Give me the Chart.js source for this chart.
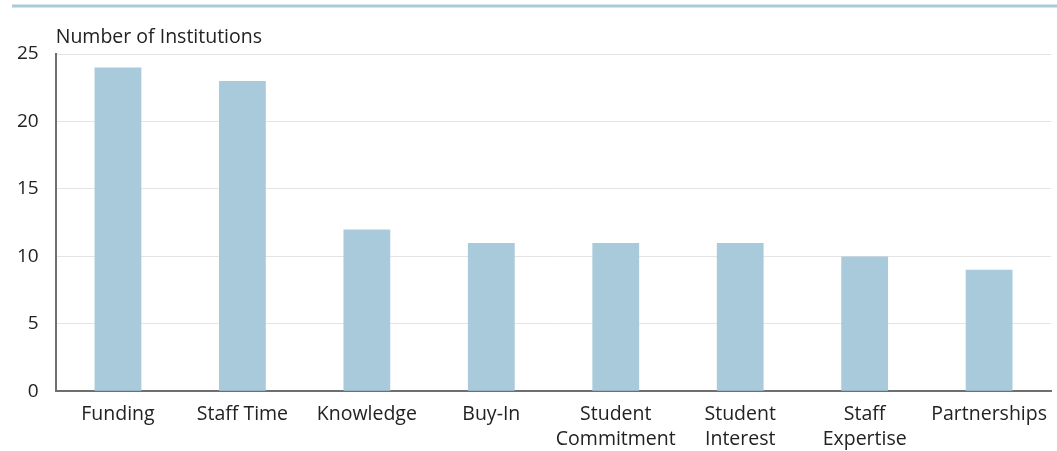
<!DOCTYPE html>
<html>
<head>
<meta charset="utf-8">
<script src="https://cdn.jsdelivr.net/npm/chart.js@4.4.1/dist/chart.umd.min.js"></script>
<style>
  html, body { margin: 0; padding: 0; background: #fff; }
  #wrap { position: relative; width: 1057px; height: 451px; }
</style>
</head>
<body>
<div id="wrap"><canvas id="barrierChart"></canvas></div>
<script>
const categories = ['Funding', 'Staff Time', 'Knowledge', 'Buy-In', ['Student', 'Commitment'], ['Student', 'Interest'], ['Staff', 'Expertise'], 'Partnerships'];
const institutions = [24, 23, 12, 11, 11, 11, 10, 9];
const yTicks = [0, 5, 10, 15, 20, 25];
const yTitle = 'Number of Institutions';

const FONT = "'Open Sans', 'Noto Sans', sans-serif";
const BAR = '#a8cadb';

// thin rule across the top and the axis caption above the plot
const decorations = {
    id: 'decorations',
    afterDraw(chart) {
        const ctx = chart.ctx;
        const area = chart.chartArea;
        ctx.save();
        ctx.strokeStyle = BAR;
        ctx.lineWidth = 3;
        ctx.beginPath();
        ctx.moveTo(12, 6);
        ctx.lineTo(chart.width, 6);
        ctx.stroke();
        ctx.fillStyle = '#222';
        ctx.font = '19.5px ' + FONT;
        ctx.textAlign = 'left';
        ctx.textBaseline = 'alphabetic';
        ctx.fillText(yTitle, area.left, 43);
        ctx.restore();
    }
};

function createBarChart() {
    const ctx = document.getElementById('barrierChart').getContext('2d');
    new Chart(ctx, {
        type: 'bar',
        data: {
            labels: categories,
            datasets: [{
                label: yTitle,
                data: institutions,
                backgroundColor: BAR,
                borderWidth: 0,
                barPercentage: 0.376,
                categoryPercentage: 1
            }]
        },
        options: {
            responsive: true,
            maintainAspectRatio: false,
            animation: false,
            layout: {
                padding: { top: 54, right: 0, left: 0, bottom: -11 }
            },
            plugins: {
                legend: { display: false },
                title: { display: false },
                tooltip: { enabled: false }
            },
            scales: {
                x: {
                    grid: { display: false, drawTicks: false },
                    border: { color: '#6f6f6f', width: 2 },
                    ticks: {
                        color: '#222',
                        font: { family: FONT, size: 19.5, lineHeight: 1.3 },
                        padding: 10,
                        maxRotation: 0,
                        autoSkip: false
                    }
                },
                y: {
                    min: 0,
                    max: 25,
                    afterBuildTicks(axis) {
                        axis.ticks = yTicks.map(v => ({ value: v }));
                    },
                    grid: { color: '#e4e4e4', lineWidth: 1, drawTicks: false },
                    border: { color: '#6f6f6f', width: 2 },
                    ticks: {
                        color: '#222',
                        font: { family: FONT, size: 19 },
                        padding: 17
                    }
                }
            }
        },
        plugins: [decorations]
    });
}

createBarChart();
</script>
</body>
</html>
